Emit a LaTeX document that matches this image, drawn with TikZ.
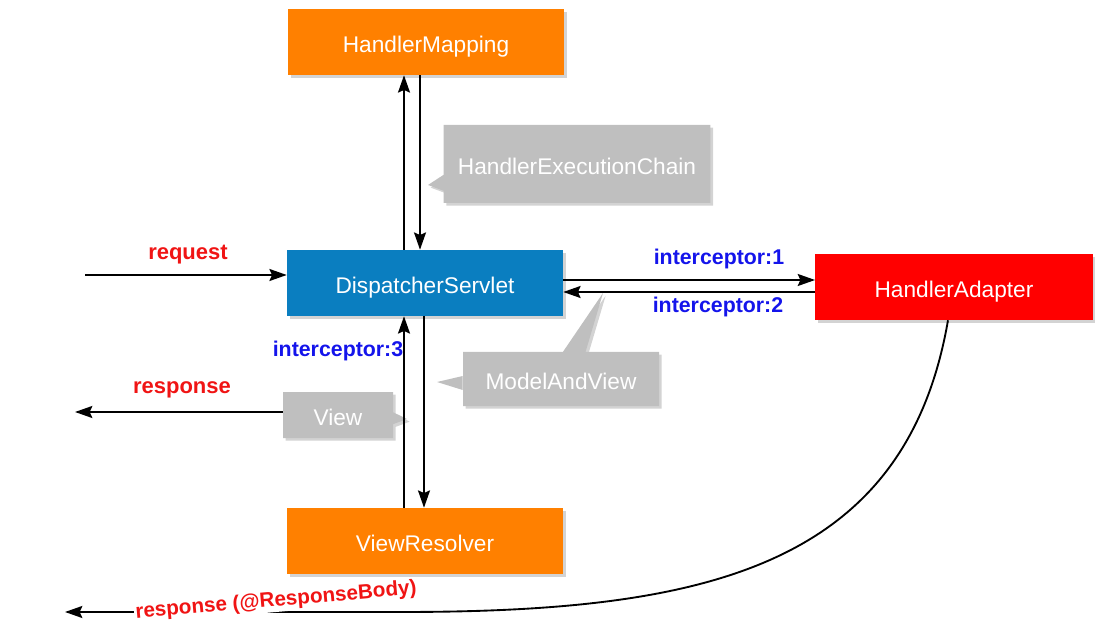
\documentclass[tikz,border=0pt]{standalone}
\usepackage{fontspec}
\setmainfont{Liberation Sans}
\usetikzlibrary{arrows.meta, positioning, calc, shapes.callouts, shadows}

\definecolor{mvcorange}{RGB}{255,128,0}
\definecolor{mvcblue}{RGB}{10,126,192}
\definecolor{mvcred}{RGB}{255,0,0}
\definecolor{notegray}{RGB}{191,191,191}
\definecolor{lblblue}{RGB}{20,20,235}
\definecolor{lblred}{RGB}{240,20,20}

\begin{document}
\begin{tikzpicture}[
    x=0.75pt, y=-0.75pt,
    comp/.style={rectangle, minimum width=207pt, minimum height=49.5pt, inner sep=0pt, text=white, text height=16pt, text depth=0pt, font=\fontsize{17}{20}\selectfont, drop shadow={shadow xshift=2pt, shadow yshift=-2pt, opacity=0.35}},
    note/.style={rectangle callout, fill=notegray, inner sep=0pt, text=white, text height=16pt, text depth=0pt, font=\fontsize{17}{20}\selectfont, drop shadow={shadow xshift=2pt, shadow yshift=-2pt, opacity=0.35}},
    flow/.style={-{Stealth[length=13pt, width=9pt, inset=2pt]}, line width=1.4pt},
    redlbl/.style={text=lblred, font=\fontsize{16.5}{19}\selectfont\bfseries},
    bluelbl/.style={text=lblblue, font=\fontsize{16}{19}\selectfont\bfseries},
]
\useasboundingbox (0,0) rectangle (1108,638);

% Nodes
\node[comp, fill=mvcorange] (hm) at (426,42) {HandlerMapping};
\node[comp, fill=mvcblue] (ds) at (425,283) {DispatcherServlet};
\node[comp, fill=mvcred, minimum width=208pt] (ha) at (954,287) {HandlerAdapter};
\node[comp, fill=mvcorange] (vr) at (425,541) {ViewResolver};

% Notes
\node[note, minimum width=200pt, minimum height=58.5pt, callout absolute pointer={(428,185)}, callout pointer width=12pt] (hec) at (577,164) {HandlerExecutionChain};
\node[note, minimum width=147pt, minimum height=40.5pt, callout absolute pointer={(603,293)}, callout pointer width=17pt] (mav) at (561,379) {ModelAndView};
\fill[notegray] ($(mav.west)+(0,-3)$) -- (437,382) -- ($(mav.west)+(0,11)$) -- cycle;
\node[note, minimum width=82.5pt, minimum height=34.5pt, callout absolute pointer={(407,419)}, callout pointer width=9pt] (view) at (338,415) {View};

% Free ends
\coordinate (reqin) at (85,275);
\coordinate (respout) at (75,412);
\coordinate (bodyturn) at (400,612);
\coordinate (bodyout) at (65,612);

% Arrows
\draw[flow] (reqin) -- ($(ds.west)+(0,-8)$);
\draw[flow] ($(ds.north)+(-21,0)$) -- ($(hm.south)+(-22,0)$);
\draw[flow] ($(hm.south)+(-6,0)$) -- ($(ds.north)+(-5,0)$);
\draw[flow] ($(ds.east)+(0,-3)$) -- ($(ha.west)+(0,-7)$);
\draw[flow] ($(ha.west)+(0,5)$) -- ($(ds.east)+(0,9)$);
\draw[flow] ($(vr.north)+(-21,0)$) -- ($(ds.south)+(-21,0)$);
\draw[flow] ($(ds.south)+(-1,0)$) -- ($(vr.north)+(-1,0)$);
\draw[flow] ($(view.west)+(0,-3)$) -- (respout);
\draw[flow] ($(ha.south)+(-6,0)$) .. controls (905,570) and (700,612) .. (bodyturn) -- (bodyout);

% Labels
\node[redlbl] (reqlbl) at (188,255) {request};
\node[bluelbl] (ic1) at (719,259) {interceptor:1};
\node[bluelbl] (ic2) at (718,307) {interceptor:2};
\node[bluelbl] (ic3) at (338,351) {interceptor:3};
\node[redlbl] (resplbl) at (182,390) {response};
\node[redlbl, fill=white, inner sep=1pt, rotate=5, font=\fontsize{15.5}{18}\selectfont\bfseries] (bodylbl) at (276,601) {response (@ResponseBody)};

\end{tikzpicture}
\end{document}
